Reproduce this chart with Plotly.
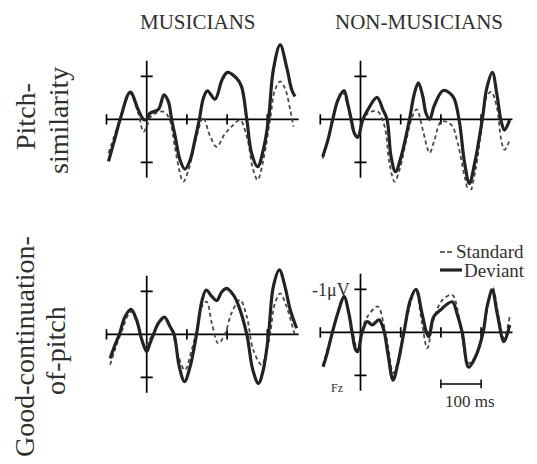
import plotly.graph_objects as go

W, H = 537, 464

# ---------------- data: time (ms) and amplitude (µV, negative plotted up) ----------------
# Pitch-similarity, musicians
mus_pitch_dev_t = [-95, -80, -66, -41, -21, -8, 0, 8, 29, 43, 54, 62, 71, 83, 95, 108, 120, 131, 141, 151,
                   170, 187, 201, 224, 236, 249, 261, 276, 290, 303, 315, 332, 348, 361, 369]
mus_pitch_dev_v = [0.98, 0.48, 0.0, -0.63, -0.22, 0.0, 0.0, -0.14, -0.23, -0.57, -0.41, 0.0, 0.40, 0.95, 1.16,
                   0.95, 0.48, 0.0, -0.49, -0.66, -0.47, -0.91, -1.09, -0.95, -0.76, 0.0, 0.79, 1.10, 0.71,
                   0.0, -1.15, -1.73, -1.22, -0.68, -0.53]
mus_pitch_std_t = [-95, -81, -66, -41, -21, -8, 0, 12, 41, 56, 70, 83, 91, 104, 120, 137, 141, 158, 174, 195,
                   211, 232, 249, 265, 276, 290, 307, 319, 332, 344, 357, 365]
mus_pitch_std_v = [0.79, 0.40, 0.0, -0.60, -0.14, 0.29, 0.17, -0.08, -0.18, -0.02, 0.64, 1.26, 1.45, 1.18,
                   0.56, 0.0, -0.05, 0.40, 0.64, 0.33, 0.17, 0.02, 0.40, 1.18, 1.41, 0.95, 0.0, -0.68, -0.88,
                   -0.72, -0.22, 0.17]

# Pitch-similarity, non-musicians
non_pitch_dev_t = [-94, -81, -69, -56, -41, -32, -23, -15, -7, 6, 18, 41, 56, 66, 76, 87, 101, 122, 134, 144,
                   155, 163, 172, 184, 206, 230, 245, 259, 271, 284, 303, 314, 328, 339, 350, 358, 371]
non_pitch_dev_v = [0.87, 0.48, 0.0, -0.45, -0.67, -0.37, 0.0, 0.33, 0.42, 0.0, -0.22, -0.51, -0.22, 0.0, 0.87,
                   1.22, 0.87, 0.0, -0.60, -0.85, -0.53, -0.14, 0.0, -0.33, -0.67, -0.53, 0.0, 1.02, 1.49,
                   1.02, 0.0, -0.72, -1.09, -0.60, 0.05, 0.25, 0.02]
non_pitch_std_t = [-94, -81, -69, -46, -32, -19, -7, 10, 27, 43, 60, 72, 85, 97, 114, 129, 140, 155, 172, 184,
                   201, 226, 242, 259, 271, 286, 303, 314, 325, 339, 350, 358, 371]
non_pitch_std_v = [0.91, 0.48, -0.05, -0.64, -0.33, 0.25, 0.39, -0.06, -0.18, -0.18, 0.17, 1.02, 1.45, 1.18,
                   0.48, -0.06, -0.23, 0.25, 0.78, 0.48, 0.05, 0.13, 0.56, 1.33, 1.72, 1.18, 0.09, -0.53,
                   -0.64, -0.29, 0.48, 0.71, 0.48]

# Good-continuation-of-pitch, musicians
mus_cont_dev_t = [-91, -79, -68, -54, -39, -25, -12, 0, 8, 17, 29, 44, 58, 68, 81, 94, 108, 124, 137, 148,
                  162, 174, 187, 199, 216, 228, 249, 264, 278, 290, 303, 315, 330, 344, 357, 373]
mus_cont_dev_v = [0.56, 0.25, 0.0, -0.41, -0.58, -0.33, 0.13, 0.40, 0.21, 0.0, -0.26, -0.40, -0.18, 0.0, 0.75,
                  1.10, 0.75, 0.0, -0.76, -1.03, -0.88, -0.78, -0.99, -1.07, -0.91, -0.68, 0.0, 0.83, 1.14,
                  0.83, 0.0, -1.11, -1.50, -1.11, -0.57, -0.14]
mus_cont_std_t = [-91, -79, -65, -39, -21, -4, 12, 44, 62, 79, 95, 112, 124, 137, 149, 162, 178, 195, 211, 232,
                  249, 265, 286, 299, 307, 319, 332, 348, 369]
mus_cont_std_v = [0.71, 0.36, 0.0, -0.53, -0.18, 0.29, 0.05, -0.37, -0.10, 0.52, 0.83, 0.36, -0.10, -0.64,
                  -0.76, -0.26, 0.21, -0.02, -0.49, -0.80, -0.41, 0.36, 0.71, 0.36, 0.0, -0.72, -0.95, -0.64,
                  0.05]

# Good-continuation-of-pitch, non-musicians
non_cont_dev_t = [-93, -83, -70, -54, -41, -29, -21, -12, -7, 4, 17, 29, 46, 58, 68, 81, 93, 108, 124, 138,
                  153, 164, 170, 182, 199, 228, 240, 253, 269, 286, 305, 315, 328, 340, 357, 371]
non_cont_dev_v = [0.80, 0.49, 0.0, -0.52, -0.83, -0.44, 0.0, 0.41, 0.45, 0.0, -0.25, -0.17, -0.29, -0.05, 0.49,
                  1.11, 0.72, 0.0, -0.75, -1.0, -0.44, 0.0, 0.10, -0.36, -0.52, -0.71, -0.44, 0.0, 0.81, 0.57,
                  0.0, -0.60, -0.98, -0.44, 0.22, -0.17]
non_cont_std_t = [-93, -70, -41, -21, -7, 4, 17, 43, 58, 70, 81, 95, 108, 137, 153, 166, 182, 203, 228, 245,
                  269, 290, 305, 328, 344, 357, 371]
non_cont_std_v = [0.76, 0.0, -0.83, -0.05, 0.41, -0.05, -0.36, -0.60, -0.17, 0.41, 0.95, 0.64, 0.0, -0.98,
                  -0.21, 0.37, -0.29, -0.74, -0.87, -0.36, 0.72, 0.49, 0.0, -1.05, -0.36, 0.14, -0.36]

# axis furniture (ms / µV)
x_ticks_ms = [-100, 100, 200, 300]
y_ticks_uv = [-1, 1]
x_axis_start, x_axis_end = -100, 378
y_axis_half = 1.36
scale_bar_ms = (200, 300)
scale_bar_uv = 1.2

col_titles = ["MUSICIANS", "NON-MUSICIANS"]

# ---------------- layout geometry (pixels) ----------------
X_RANGE = [-110, 390]
Y_RANGE = [1.65, -1.95]          # reversed: negative up
PX_PER_MS = 0.402
PX_PER_UV = 43.0
ORIGIN_X = [146.7, 360.5]        # left / right column
BASE_Y = [[119.3, 119.3], [334.3, 332.3]]  # row, col

SERIF = "Liberation Serif, Times New Roman, serif"
SOLID_COL = "#232323"
DASH_COL = "#4a4a4a"
TEXT_COL = "#303030"

fig = go.Figure()

panels = [
    (mus_pitch_dev_t, mus_pitch_dev_v, mus_pitch_std_t, mus_pitch_std_v, 0, 0),
    (non_pitch_dev_t, non_pitch_dev_v, non_pitch_std_t, non_pitch_std_v, 0, 1),
    (mus_cont_dev_t, mus_cont_dev_v, mus_cont_std_t, mus_cont_std_v, 1, 0),
    (non_cont_dev_t, non_cont_dev_v, non_cont_std_t, non_cont_std_v, 1, 1),
]

shapes = []
layout_axes = {}
for i, (dt, dv, st, sv, r, c) in enumerate(panels):
    n = "" if i == 0 else str(i + 1)
    xa, ya = "x" + n, "y" + n
    ox = ORIGIN_X[c]
    by = BASE_Y[r][c]
    x0 = ox + X_RANGE[0] * PX_PER_MS
    x1 = ox + X_RANGE[1] * PX_PER_MS
    ytop = by - (-Y_RANGE[1]) * PX_PER_UV
    ybot = by + Y_RANGE[0] * PX_PER_UV
    layout_axes["xaxis" + n] = dict(domain=[x0 / W, x1 / W], range=X_RANGE, visible=False,
                                    anchor=ya, fixedrange=True)
    layout_axes["yaxis" + n] = dict(domain=[1 - ybot / H, 1 - ytop / H], range=Y_RANGE, visible=False,
                                    anchor=xa, fixedrange=True)

    fig.add_trace(go.Scatter(x=st, y=sv, xaxis=xa, yaxis=ya, mode="lines", name="Standard",
                             line=dict(color=DASH_COL, width=1.8, dash="4px,3px", shape="spline"),
                             showlegend=False, hoverinfo="skip"))
    fig.add_trace(go.Scatter(x=dt, y=dv, xaxis=xa, yaxis=ya, mode="lines", name="Deviant",
                             line=dict(color=SOLID_COL, width=3.2, shape="spline"),
                             showlegend=False, hoverinfo="skip"))

    ax_line = dict(color="black", width=1.7)
    shapes.append(dict(type="line", xref=xa, yref=ya, x0=x_axis_start, x1=x_axis_end, y0=0, y1=0,
                       line=ax_line, layer="below"))
    shapes.append(dict(type="line", xref=xa, yref=ya, x0=0, x1=0, y0=-y_axis_half, y1=y_axis_half,
                       line=ax_line, layer="below"))
    for tx in x_ticks_ms:
        shapes.append(dict(type="line", xref=xa, yref=ya, x0=tx, x1=tx, y0=-0.12, y1=0.12,
                           line=ax_line, layer="below"))
    for tyv in y_ticks_uv:
        shapes.append(dict(type="line", xref=xa, yref=ya, x0=-15, x1=15, y0=tyv, y1=tyv,
                           line=ax_line, layer="below"))

# scale bar (100 ms) in the lower-right panel
shapes.append(dict(type="line", xref="x4", yref="y4", x0=scale_bar_ms[0], x1=scale_bar_ms[1],
                   y0=scale_bar_uv, y1=scale_bar_uv, line=dict(color="black", width=1.5)))
for sx in scale_bar_ms:
    shapes.append(dict(type="line", xref="x4", yref="y4", x0=sx, x1=sx,
                       y0=scale_bar_uv - 0.1, y1=scale_bar_uv + 0.1, line=dict(color="black", width=1.5)))

# legend samples
shapes.append(dict(type="line", xref="paper", yref="paper", x0=440 / W, x1=452 / W,
                   y0=1 - 252 / H, y1=1 - 252 / H, line=dict(color="#333", width=1.5, dash="5px,2px")))
shapes.append(dict(type="line", xref="paper", yref="paper", x0=440 / W, x1=462 / W,
                   y0=1 - 270 / H, y1=1 - 270 / H, line=dict(color=SOLID_COL, width=3.2)))


def ann(text, x, y, size, xanchor="center", angle=0):
    return dict(text=text, x=x / W, y=1 - y / H, xref="paper", yref="paper", showarrow=False,
                font=dict(family=SERIF, size=size, color=TEXT_COL), xanchor=xanchor,
                yanchor="middle", textangle=angle)


annotations = [
    ann(col_titles[0], 198, 22, 21),
    ann(col_titles[1], 419, 22, 21),
    ann("Pitch-", 25, 117, 28, angle=-90),
    ann("similarity", 58, 121, 28, angle=-90),
    ann("Good-continuation-", 24, 347, 28, angle=-90),
    ann("of-pitch", 55, 351, 28, angle=-90),
    ann("-1\u03bcV", 352, 290, 18, xanchor="right"),
    ann("Fz", 337, 388, 12),
    ann("100 ms", 470, 401, 17),
    ann("Standard", 454, 251, 19, xanchor="left"),
    ann("Deviant", 462, 270, 19, xanchor="left"),
]

fig.update_layout(
    width=W, height=H, autosize=False,
    margin=dict(l=0, r=0, t=0, b=0, pad=0),
    paper_bgcolor="white", plot_bgcolor="white",
    showlegend=False,
    shapes=shapes, annotations=annotations,
    **layout_axes,
)

fig.write_html("out.html", config={"displayModeBar": False, "staticPlot": True},
               post_script="document.body.style.margin='0';")
